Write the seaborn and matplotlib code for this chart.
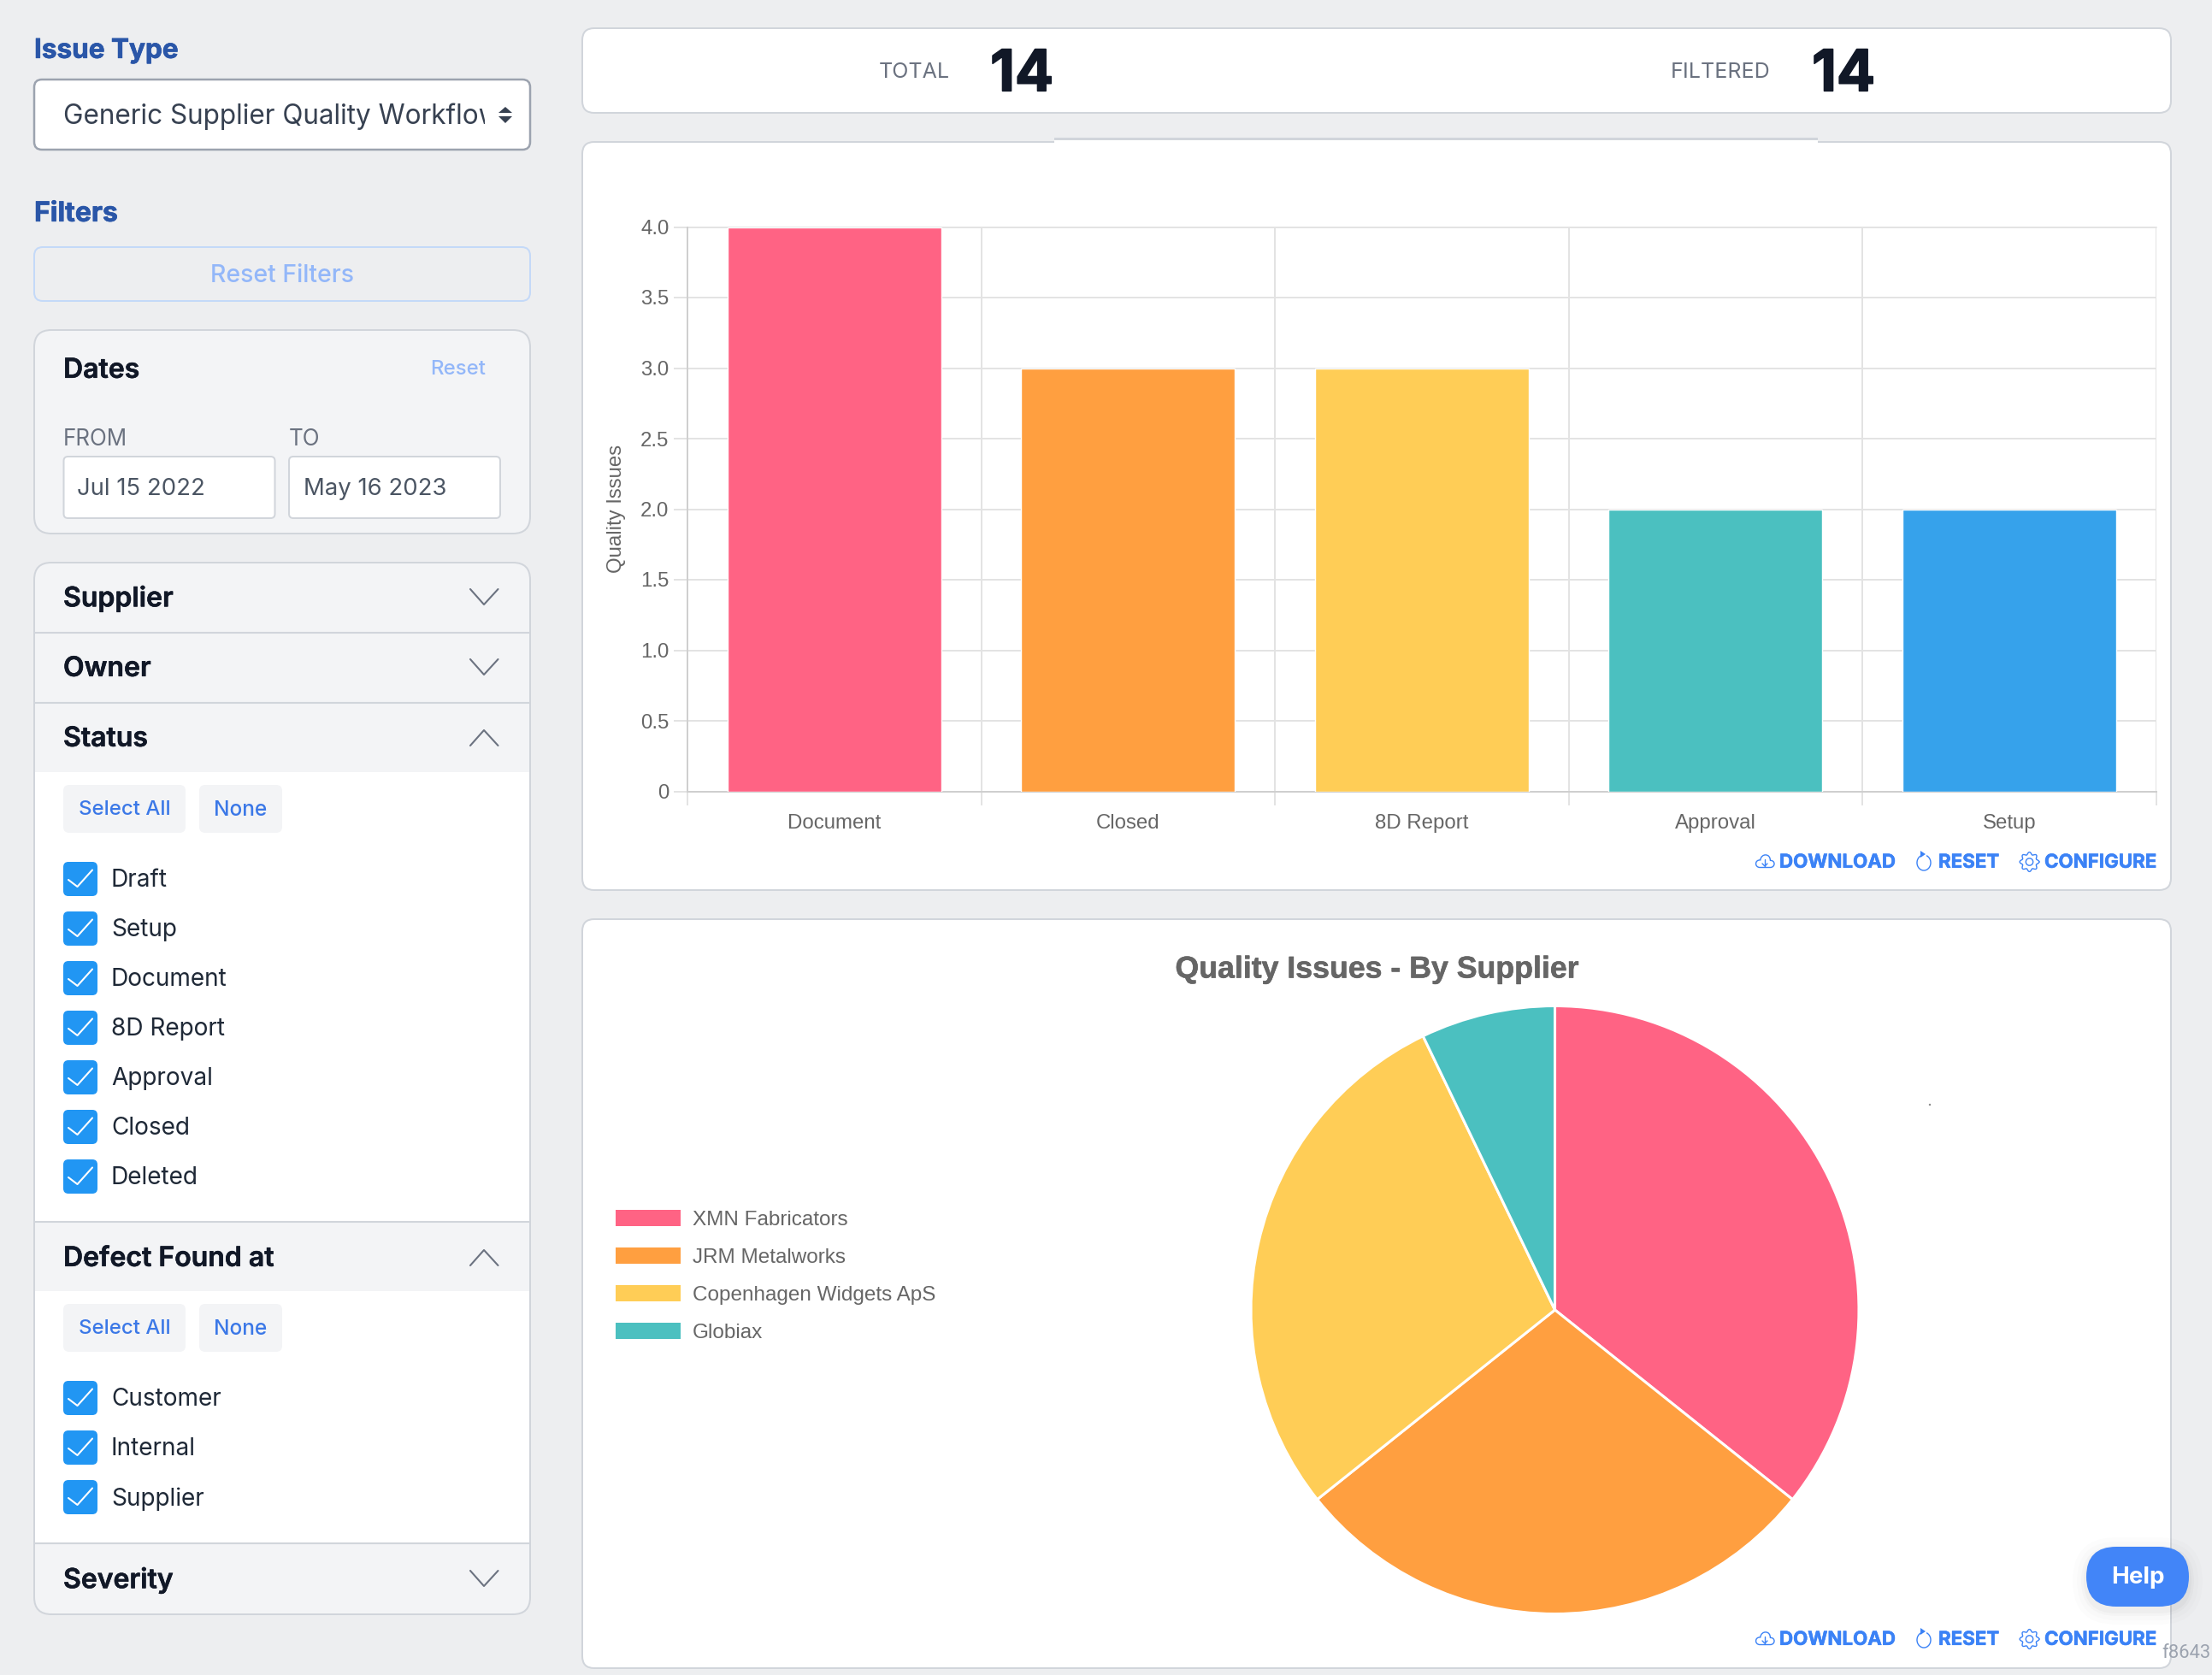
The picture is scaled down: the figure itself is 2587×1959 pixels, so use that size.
import numpy as np
import pandas as pd
import seaborn as sns
import matplotlib
matplotlib.use("Agg")
import matplotlib.pyplot as plt
import matplotlib.patheffects as pe
from matplotlib.patches import FancyBboxPatch, Rectangle, Polygon, Circle, Patch, PathPatch, Arc
from matplotlib.path import Path

# ── data ──────────────────────────────────────────────────────────────────────
STATUS_STAGES = ["Document", "Closed", "8D Report", "Approval", "Setup"]
STATUS_COUNTS = [4, 3, 3, 2, 2]
STATUS_COLORS = ["#ff6384", "#ff9f40", "#ffcd56", "#4bc0c0", "#36a2eb"]
Y_TICKS = [0, 0.5, 1.0, 1.5, 2.0, 2.5, 3.0, 3.5, 4.0]
Y_TICK_LABELS = ["0", "0.5", "1.0", "1.5", "2.0", "2.5", "3.0", "3.5", "4.0"]

SUPPLIERS = ["XMN Fabricators", "JRM Metalworks", "Copenhagen Widgets ApS", "Globiax"]
SUPPLIER_COUNTS = [5, 4, 4, 1]

STATUS_FILTERS = ["Draft", "Setup", "Document", "8D Report", "Approval", "Closed", "Deleted"]
DEFECT_FILTERS = ["Customer", "Internal", "Supplier"]

W, H = 2587, 1959
PAGE = "#edeef0"
PANEL = "#f3f4f6"
BORDER = "#d1d5db"
BLUE = "#3b82f6"
GRID = "#e3e3e3"
UI_FONT = "Inter"
CHART_FONT = "Liberation Sans"

sns.set_theme(style="white")
plt.rcParams["font.family"] = [CHART_FONT, "DejaVu Sans"]

fig = plt.figure(figsize=(W / 100, H / 100), dpi=100, facecolor=PAGE)

# pixel-space layer for the page furniture
bg = fig.add_axes([0, 0, 1, 1], zorder=0)
bg.set_xlim(0, W)
bg.set_ylim(H, 0)
bg.axis("off")


def txt(x, y, s, px, color, weight="normal", ha="left", family=UI_FONT, zorder=5, stroke=0):
    t = bg.text(x, y - 1.2, s, fontsize=px * 0.72, color=color, fontweight=weight,
                ha=ha, va="center_baseline", family=family, zorder=zorder)
    if stroke:
        t.set_path_effects([pe.withStroke(linewidth=stroke, foreground=color)])
    return t


def box(x0, y0, x1, y1, fc="white", ec=BORDER, lw=2.0, r=14, zorder=1, alpha=None):
    p = FancyBboxPatch((x0, y0), x1 - x0, y1 - y0,
                       boxstyle=f"round,pad=0,rounding_size={r}",
                       fc=fc, ec=ec, lw=lw * 0.72, zorder=zorder, alpha=alpha)
    bg.add_patch(p)
    return p


def chevron(cy, up=False):
    d = 9 if up else -9
    bg.plot([550, 566, 582.5], [cy + d, cy - d, cy + d], color="#6b7280", lw=1.5, zorder=4)


def checkbox(cy, label):
    box(74, cy - 20, 114, cy + 20, fc="#2196f3", ec="none", r=6, zorder=3)
    bg.plot([80, 90.5, 108], [cy + 1, cy + 9, cy - 10.5], color="white", lw=1.5, zorder=4)
    txt(130, cy, label, 28, "#1f2937")


def select_buttons(cy):
    box(74, cy - 28, 217, cy + 28, fc=PANEL, ec="none", r=7, zorder=3)
    box(233, cy - 28, 330, cy + 28, fc=PANEL, ec="none", r=7, zorder=3)
    txt(145.5, cy, "Select All", 24, "#3b78e7", weight="medium", ha="center")
    txt(281.5, cy, "None", 24.5, "#3b78e7", weight="medium", ha="center")


def cloud_icon(cx, cy):
    s = 10.5
    verts = [(-0.55, 0.62), (-1.15, 0.62), (-1.15, -0.25), (-0.5, -0.2),
             (-0.4, -1.0), (0.65, -0.95), (0.6, -0.15),
             (1.2, -0.2), (1.2, 0.62), (0.6, 0.62), (-0.55, 0.62)]
    codes = [Path.MOVETO] + [Path.CURVE4] * 9 + [Path.LINETO]
    verts = [(cx + a * s, cy + b * s) for a, b in verts]
    bg.add_patch(PathPatch(Path(verts, codes), fc="none", ec=BLUE, lw=1.0, zorder=4))
    bg.plot([cx, cx], [cy - 3, cy + 5], color=BLUE, lw=1.0, zorder=4)
    bg.plot([cx - 3, cx, cx + 3], [cy + 2, cy + 5, cy + 2], color=BLUE, lw=1.0, zorder=4)


def reset_icon(cx, cy):
    bg.add_patch(Arc((cx, cy + 1), 16, 18, theta1=-70, theta2=250, ec=BLUE, lw=1.0, zorder=4))
    bg.add_patch(Polygon([(cx - 4, cy - 13), (cx + 2, cy - 9), (cx - 4, cy - 5)], fc=BLUE, ec="none", zorder=4))


def gear_icon(cx, cy):
    ang = np.linspace(0, 2 * np.pi, 97)
    rad = 10 + 1.4 * np.cos(8 * ang)
    bg.plot(cx + rad * np.cos(ang), cy + rad * np.sin(ang), color=BLUE, lw=1.0, zorder=4)
    bg.add_patch(Circle((cx, cy), 4.2, fc="none", ec=BLUE, lw=1.0, zorder=4))


def chart_actions(cy):
    cloud_icon(2064, cy)
    txt(2081, cy, "DOWNLOAD", 22.3, BLUE, weight="bold", stroke=0.4)
    reset_icon(2250, cy)
    txt(2267, cy, "RESET", 22.3, BLUE, weight="bold", stroke=0.4)
    gear_icon(2373.5, cy)
    txt(2391, cy, "CONFIGURE", 22.3, BLUE, weight="bold", stroke=0.4)


# ── left column ───────────────────────────────────────────────────────────────
txt(40, 57, "Issue Type", 31.5, "#2a56a8", weight="bold", stroke=0.5)
box(40, 93, 620, 175, ec="#9ca3af", lw=2.5, r=9)
t = txt(74, 134, "Generic Supplier Quality Workflow", 31.5, "#374151")
clip = Rectangle((40, 93), 527, 82, transform=bg.transData)
t.set_clip_path(clip)
t.set_clip_on(True)
bg.add_patch(Polygon([(583, 132), (591, 125), (599, 132)], fc="#374151", ec="none", zorder=4))
bg.add_patch(Polygon([(583, 136), (591, 144), (599, 136)], fc="#374151", ec="none", zorder=4))

txt(40, 248, "Filters", 32, "#2a56a8", weight="bold", stroke=0.5)
box(40, 289, 620, 352, fc=PAGE, ec="#c4d9f8", r=10)
txt(330, 321, "Reset Filters", 28.5, "#93b7f9", weight="medium", ha="center")

box(40, 386, 620, 624, fc=PANEL, r=20)
txt(74, 431, "Dates", 32, "#111827", weight="semibold", stroke=0.4)
txt(568, 431, "Reset", 24, "#93b7f9", weight="medium", ha="right")
txt(74, 512, "FROM", 26, "#6b7280")
txt(338, 512, "TO", 26, "#6b7280")
box(74.5, 534, 321.5, 606, r=5)
box(338, 534, 585, 606, r=5)
txt(90.5, 570, "Jul 15 2022", 27.5, "#4b5563")
txt(355, 570, "May 16 2023", 27.5, "#4b5563")

# accordion
box(40, 658, 620, 1888, fc=PANEL, ec="none", r=20, zorder=1)
bg.add_patch(Rectangle((41, 903), 578, 526, fc="white", ec="none", zorder=2))
bg.add_patch(Rectangle((41, 1510), 578, 295, fc="white", ec="none", zorder=2))
box(40, 658, 620, 1888, fc="none", r=20, zorder=3)
for yy in [740, 822, 1429, 1805]:
    bg.plot([41, 619], [yy, yy], color=BORDER, lw=1.5, zorder=3)

txt(74, 698, "Supplier", 32, "#111827", weight="semibold", stroke=0.4)
chevron(698)
txt(74, 780, "Owner", 32, "#111827", weight="semibold", stroke=0.4)
chevron(780)
txt(74, 862, "Status", 32, "#111827", weight="semibold", stroke=0.4)
chevron(863, up=True)
select_buttons(946)
for i, lab in enumerate(STATUS_FILTERS):
    checkbox(1028 + 58 * i, lab)
txt(74, 1470, "Defect Found at", 32, "#111827", weight="semibold", stroke=0.4)
chevron(1471, up=True)
select_buttons(1553)
for i, lab in enumerate(DEFECT_FILTERS):
    checkbox(1635 + 58 * i, lab)
txt(74, 1846, "Severity", 32, "#111827", weight="semibold", stroke=0.4)
chevron(1846)

# ── right column cards ────────────────────────────────────────────────────────
box(681, 33, 2539, 132)
txt(1028, 83, "TOTAL", 25, "#6b7280")
txt(1158, 83, "14", 67, "#111827", weight="bold", stroke=1.2)
txt(1954, 83, "FILTERED", 25, "#6b7280")
txt(2119, 83, "14", 67, "#111827", weight="bold", stroke=1.2)

box(681, 166, 2539, 1041)
bg.add_patch(Rectangle((1233, 161), 893, 9, fc="white", ec="none", zorder=2))
bg.add_patch(Rectangle((1233, 161), 893, 3, fc=BORDER, ec="none", zorder=2))
chart_actions(1008)

box(681, 1075, 2539, 1951)
tt = bg.text(1610, 1130, "Quality Issues - By Supplier", fontsize=25.7, color="#666666",
             fontweight="bold", ha="center", va="center_baseline", family=CHART_FONT, zorder=5)
tt.set_path_effects([pe.withStroke(linewidth=0.4, foreground="#666666")])
chart_actions(1917)
bg.add_patch(Circle((2257, 1292), 1.2, fc="#888888", ec="none", zorder=5))

# ── bar chart ─────────────────────────────────────────────────────────────────
ax = fig.add_axes([804 / W, 1 - 925.5 / H, 1717.5 / W, 660 / H], zorder=2)
status_df = pd.DataFrame({"stage": STATUS_STAGES, "count": STATUS_COUNTS})
sns.barplot(data=status_df, x="stage", y="count", hue="stage", palette=STATUS_COLORS,
            order=STATUS_STAGES, hue_order=STATUS_STAGES, legend=False, width=0.727,
            saturation=1, ax=ax, zorder=3)
ax.set_xlim(-0.5, 4.5)
ax.set_ylim(0, 4)
ax.set_xlabel("")
ax.set_ylabel("Quality Issues", fontsize=17.3, color="#666666", va="center")
ax.yaxis.set_label_coords((721 - 804) / 1717.5, 0.5015)
ax.set_yticks(Y_TICKS)
ax.set_yticklabels(Y_TICK_LABELS)
ax.set_xticks(np.arange(-0.5, 5), minor=True)
ax.grid(True, axis="y", which="major", color=GRID, lw=1.44, zorder=0)
ax.grid(True, axis="x", which="minor", color=GRID, lw=1.44, zorder=0)
ax.grid(False, axis="x", which="major")
ax.set_axisbelow(True)
ax.get_ygridlines()[-1].set_clip_on(False)
ax.tick_params(axis="y", which="major", length=11.5, width=1.44, color=GRID,
               labelsize=17.3, labelcolor="#666666", pad=4, left=True)
ax.tick_params(axis="x", which="major", length=0, labelsize=17.3, labelcolor="#666666", pad=19)
ax.tick_params(axis="x", which="minor", length=11.5, width=1.44, color=GRID, bottom=True)
for side in ["top", "right"]:
    ax.spines[side].set_visible(False)
for side in ["left", "bottom"]:
    ax.spines[side].set_color("#cfcfcf")
    ax.spines[side].set_linewidth(1.44)

# ── pie chart ─────────────────────────────────────────────────────────────────
R = 355.5
pie_ax = fig.add_axes([(1818.5 - R) / W, 1 - (1532 + R) / H, 2 * R / W, 2 * R / H], zorder=2)
pie_colors = sns.color_palette(STATUS_COLORS[: len(SUPPLIERS)])
pie_ax.pie(SUPPLIER_COUNTS, colors=pie_colors, startangle=90, counterclock=False,
           wedgeprops={"edgecolor": "white", "linewidth": 2.2, "clip_on": False})
pie_ax.set_xlim(-1, 1)
pie_ax.set_ylim(-1, 1)
handles = [Patch(facecolor=c, edgecolor="none") for c in pie_colors]
fig.legend(handles, SUPPLIERS, loc="upper left", bbox_to_anchor=(720 / W, 1 - 1415 / H),
           frameon=False, fontsize=17.45, labelcolor="#666666", borderpad=0, borderaxespad=0,
           handlelength=3.14, handleheight=0.83, handletextpad=0.58, labelspacing=0.87)

# ── floating bits ─────────────────────────────────────────────────────────────
top = fig.add_axes([0, 0, 1, 1], zorder=5)
top.set_xlim(0, W)
top.set_ylim(H, 0)
top.axis("off")
top.patch.set_alpha(0)
for grow, a in [(16, 0.01), (11, 0.012), (6, 0.018), (3, 0.025)]:
    top.add_patch(FancyBboxPatch((2440 - grow, 1809 - grow + 5), 120 + 2 * grow, 70 + 2 * grow,
                                 boxstyle=f"round,pad=0,rounding_size={35 + grow}",
                                 fc="black", ec="none", alpha=a))
top.add_patch(FancyBboxPatch((2440, 1809), 120, 70, boxstyle="round,pad=0,rounding_size=35",
                             fc="#4285f8", ec="none"))
top.text(2500, 1842, "Help", fontsize=20, color="white", fontweight="bold", ha="center",
         va="center_baseline", family=UI_FONT)
top.text(2528, 1931, "f8643", fontsize=15.8, color="#9ca3af", ha="left",
         va="center_baseline", family="Roboto")

fig.savefig("out.png", dpi=100, facecolor=PAGE)
